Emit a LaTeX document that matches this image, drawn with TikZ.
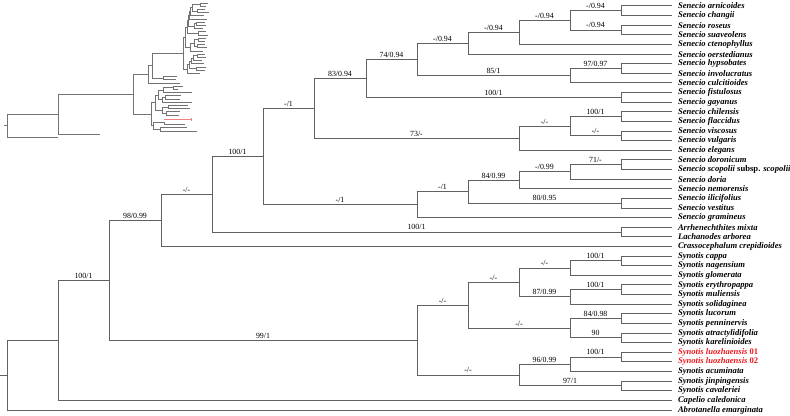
\documentclass[tikz,border=0pt]{standalone}
\usepackage{fontspec}
\setmainfont{Liberation Serif}
\usepackage{xcolor}
\definecolor{branchgray}{rgb}{0.38,0.38,0.38}
\definecolor{insetgray}{rgb}{0.45,0.45,0.45}
\definecolor{insetred}{rgb}{0.93,0.5,0.5}
\definecolor{taxonred}{rgb}{0.93,0.1,0.12}

\begin{document}
\begin{tikzpicture}[x=0.75pt,y=-0.75pt,
    br/.style={draw=branchgray,line width=0.75pt},
    ibr/.style={draw=insetgray,line width=0.55pt},
    bs/.style={font=\fontsize{5.9}{6}\selectfont,above,inner sep=1.2pt,pos=0.75},
    taxon/.style={font=\fontsize{6.45}{8}\selectfont\bfseries\itshape,anchor=west,inner sep=0pt,xshift=4.3pt}]

\useasboundingbox (0,0) rectangle (790,416);

% taxa, one row each
\foreach \name [count=\i] in {Senecio arnicoides,Senecio changii,Senecio roseus,
    Senecio suaveolens,Senecio ctenophyllus,Senecio oerstedianus,Senecio hypsobates,
    Senecio involucratus,Senecio culcitioides,Senecio fistulosus,Senecio gayanus,
    Senecio chilensis,Senecio flaccidus,Senecio viscosus,Senecio vulgaris,
    Senecio elegans,Senecio doronicum,Senecio scopolii \textup{subsp.} scopolii,
    Senecio doria,Senecio nemorensis,Senecio ilicifolius,Senecio vestitus,
    Senecio gramineus,Arrhenechthites mixta,Lachanodes arborea,
    Crassocephalum crepidioides,Synotis cappa,Synotis nagensium,Synotis glomerata,
    Synotis erythropappa,Synotis muliensis,Synotis solidaginea,Synotis lucorum,
    Synotis penninervis,Synotis atractylidifolia,Synotis karelinioides,
    \color{taxonred}Synotis luozhaensis \textup{01},
    \color{taxonred}Synotis luozhaensis \textup{02},
    Synotis acuminata,Synotis jinpingensis,Synotis cavaleriei,Capelio caledonica,
    Abrotanella emarginata}{
  \coordinate (l\i) at (672,{6+(\i-1)*9.62});
  \node[taxon] (t\i) at (l\i) {\name};
}

% Senecio clade
\coordinate (P) at (621,10.81);
\coordinate (Q) at (621,30.05);
\coordinate (O) at (570,20.43);
\coordinate (N) at (519,32.46);
\coordinate (K) at (468,43.28);
\coordinate (M) at (621,68.53);
\coordinate (L) at (570,75.75);
\coordinate (J) at (417,59.51);
\coordinate (FG) at (621,97.39);
\coordinate (H) at (366,78.45);
\coordinate (S) at (621,116.63);
\coordinate (T) at (621,135.87);
\coordinate (R) at (570,126.25);
\coordinate (I) at (519,138.28);
\coordinate (F) at (314,108.36);
\coordinate (X) at (621,164.73);
\coordinate (Y) at (570,171.95);
\coordinate (V) at (519,180.36);
\coordinate (W) at (621,203.21);
\coordinate (U) at (468,191.79);
\coordinate (G) at (417,204.71);
\coordinate (E) at (263,156.54);
\coordinate (AL) at (621,232.07);
\coordinate (D) at (212,194.3);
\coordinate (C) at (161,220.4);
% Synotis clade
\coordinate (SA) at (621,260.93);
\coordinate (Z111) at (570,268.15);
\coordinate (SB) at (621,289.79);
\coordinate (Z112) at (570,297.0);
\coordinate (Z11) at (519,282.58);
\coordinate (SC) at (621,318.65);
\coordinate (SD) at (621,337.89);
\coordinate (Z12) at (570,328.27);
\coordinate (Z1) at (468,305.42);
\coordinate (SE) at (621,357.13);
\coordinate (Z21) at (570,364.35);
\coordinate (SF) at (621,385.99);
\coordinate (Z2) at (519,375.17);
\coordinate (Z) at (417,340.3);
% backbone
\coordinate (B) at (109,280.35);
\coordinate (A) at (58,340.4);
\coordinate (root) at (7,375.2);
\coordinate (base) at (0,375.2);

% branches with support
\draw[br] (P) |- (l1) (P) |- (l2);
\draw[br] (Q) |- (l3) (Q) |- (l4);
\draw[br] (O) |- (P) node[bs] {-/0.94} (O) |- (Q) node[bs] {-/0.94};
\draw[br] (N) |- (O) node[bs] {-/0.94} (N) |- (l5);
\draw[br] (K) |- (N) node[bs] {-/0.94} (K) |- (l6);
\draw[br] (M) |- (l7) (M) |- (l8);
\draw[br] (L) |- (M) node[bs] {97/0.97} (L) |- (l9);
\draw[br] (J) |- (K) node[bs] {-/0.94} (J) |- (L) node[bs] {85/1};
\draw[br] (FG) |- (l10) (FG) |- (l11);
\draw[br] (H) |- (J) node[bs] {74/0.94} (H) |- (FG) node[bs] {100/1};
\draw[br] (S) |- (l12) (S) |- (l13);
\draw[br] (T) |- (l14) (T) |- (l15);
\draw[br] (R) |- (S) node[bs] {100/1} (R) |- (T) node[bs] {-/-};
\draw[br] (I) |- (R) node[bs] {-/-} (I) |- (l16);
\draw[br] (F) |- (H) node[bs] {83/0.94} (F) |- (I) node[bs] {73/-};
\draw[br] (X) |- (l17) (X) |- (l18);
\draw[br] (Y) |- (X) node[bs] {71/-} (Y) |- (l19);
\draw[br] (V) |- (Y) node[bs] {-/0.99} (V) |- (l20);
\draw[br] (W) |- (l21) (W) |- (l22);
\draw[br] (U) |- (V) node[bs] {84/0.99} (U) |- (W) node[bs] {80/0.95};
\draw[br] (G) |- (U) node[bs] {-/1} (G) |- (l23);
\draw[br] (E) |- (F) node[bs] {-/1} (E) |- (G) node[bs] {-/1};
\draw[br] (AL) |- (l24) (AL) |- (l25);
\draw[br] (D) |- (E) node[bs] {100/1} (D) |- (AL) node[bs] {100/1};
\draw[br] (C) |- (D) node[bs] {-/-} (C) |- (l26);

\draw[br] (SA) |- (l27) (SA) |- (l28);
\draw[br] (Z111) |- (SA) node[bs] {100/1} (Z111) |- (l29);
\draw[br] (SB) |- (l30) (SB) |- (l31);
\draw[br] (Z112) |- (SB) node[bs] {100/1} (Z112) |- (l32);
\draw[br] (Z11) |- (Z111) node[bs] {-/-} (Z11) |- (Z112) node[bs] {87/0.99};
\draw[br] (SC) |- (l33) (SC) |- (l34);
\draw[br] (SD) |- (l35) (SD) |- (l36);
\draw[br] (Z12) |- (SC) node[bs] {84/0.98} (Z12) |- (SD) node[bs] {90};
\draw[br] (Z1) |- (Z11) node[bs] {-/-} (Z1) |- (Z12) node[bs] {-/-};
\draw[br] (SE) |- (l37) (SE) |- (l38);
\draw[br] (Z21) |- (SE) node[bs] {100/1} (Z21) |- (l39);
\draw[br] (SF) |- (l40) (SF) |- (l41);
\draw[br] (Z2) |- (Z21) node[bs] {96/0.99} (Z2) |- (SF) node[bs] {97/1};
\draw[br] (Z) |- (Z1) node[bs] {-/-} (Z) |- (Z2) node[bs] {-/-};

\draw[br] (B) |- (C) node[bs] {98/0.99} (B) |- (Z) node[bs] {99/1};
\draw[br] (A) |- (B) node[bs] {100/1} (A) |- (l42);
\draw[br] (root) |- (A) (root) |- (l43);
\draw[br] (base) -- (root);

% small phylogram, top left
\begin{scope}[shift={(0,1)},yscale=0.3326]
  \foreach \ax/\ay/\bx/\by in {200/10.81/208/6,200/10.81/206/15.62,
      197/30.05/205/25.24,197/30.05/209/34.86,192/20.43/200/10.81,192/20.43/197/30.05,
      190/32.46/192/20.43,190/32.46/204/44.48,189/43.28/190/32.46,189/43.28/207/54.10,
      196/68.53/205/63.72,196/68.53/206/73.34,194/75.75/196/68.53,194/75.75/203/82.96,
      188/59.51/189/43.28,188/59.51/194/75.75,198/97.39/206/92.58,198/97.39/208/102.2,
      187/78.45/188/59.51,187/78.45/198/97.39,198/116.63/206/111.82,198/116.63/205/121.44,
      197/135.87/205/131.06,197/135.87/207/140.68,194/126.25/198/116.63,194/126.25/197/135.87,
      190/138.28/194/126.25,190/138.28/203/150.3,185/108.36/187/78.45,185/108.36/190/138.28,
      197/164.73/205/159.92,197/164.73/206/169.54,193/171.95/197/164.73,193/171.95/202/179.16,
      191/180.36/193/171.95,191/180.36/204/188.78,196/203.21/206/198.4,196/203.21/205/208.02,
      189/191.79/191/180.36,189/191.79/196/203.21,187/204.71/189/191.79,187/204.71/200/217.64,
      183/156.54/185/108.36,183/156.54/187/204.71,163/232.07/177/227.26,163/232.07/176/236.88,
      152/194.3/183/156.54,152/194.3/163/232.07,148/220.4/152/194.3,148/220.4/180/246.5,
      173/260.93/183/256.12,173/260.93/178/265.74,163/268.15/173/260.93,163/268.15/192/275.36,
      165/289.79/181/284.98,165/289.79/180/294.6,162/297.0/165/289.79,162/297.0/192/304.22,
      158/282.58/163/268.15,158/282.58/162/297.0,168/318.65/188/313.84,168/318.65/190/323.46,
      166/337.89/180/333.08,166/337.89/179/342.7,162/328.27/168/318.65,162/328.27/166/337.89,
      155/305.42/158/282.58,155/305.42/162/328.27,164/364.35/185/371.56,
      160/385.99/187/381.18,160/385.99/197/390.8,153/375.17/164/364.35,153/375.17/160/385.99,
      151/340.3/155/305.42,151/340.3/153/375.17,133/280.35/148/220.4,133/280.35/151/340.3,
      58/340.4/133/280.35,58/340.4/100/400.42,7/375.2/58/340.4,7/375.2/58/410.04}
    \draw[ibr] (\ax,\ay) |- (\bx,\by);
  \draw[ibr] (4,375.2) -- (7,375.2);
  % highlighted pair
  \draw[ibr,draw=insetred] (164,357.13) -- (191,357.13)
    (191,352.32) -- (191,361.94);
\end{scope}
\end{tikzpicture}
\end{document}
